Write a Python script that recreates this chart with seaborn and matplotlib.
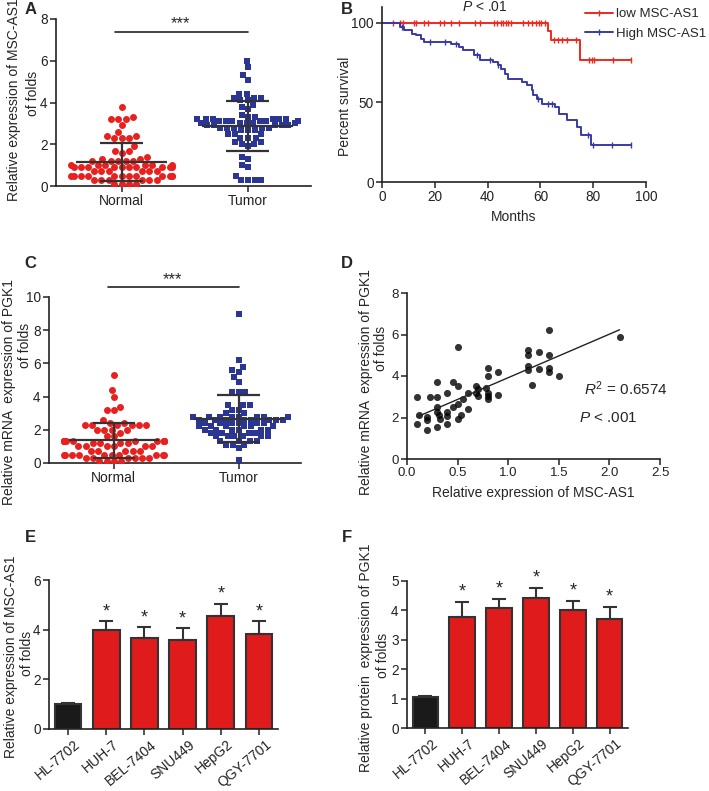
import numpy as np
import pandas as pd
import matplotlib
matplotlib.use("Agg")
import matplotlib.pyplot as plt
from matplotlib.lines import Line2D
from matplotlib.transforms import ScaledTranslation
import seaborn as sns

# ---------------- data ----------------
groups = ["Normal", "Tumor"]

# A: MSC-AS1 expression (scatter dot plot)
msc_normal = ([3.8, 3.3, 3.2, 3.2, 3.2, 2.9, 2.6, 2.4, 2.4, 2.3, 2.3, 2.3, 1.9, 1.7, 1.7,
               1.6, 1.4, 1.3, 1.3] + [1.2] * 5 + [1.0] * 6 + [0.9] * 10 + [0.7] * 6
              + [0.5] * 12 + [0.3] * 6 + [0.1] * 4)
msc_tumor = ([6.0, 5.7, 5.3, 5.1, 4.4, 4.4, 4.2, 4.2, 4.2, 4.1, 4.1, 3.9, 3.8, 3.7, 3.4,
              3.3, 3.3] + [3.2] * 6 + [3.1] * 6 + [3.0] * 5 + [2.9] * 5 + [2.8] * 5
             + [2.7] * 3 + [2.5] * 3 + [2.3] * 3 + [2.1] * 2 + [2.0] * 2
             + [1.9, 1.4, 1.3, 1.0, 0.9, 0.5, 0.3, 0.3, 0.3, 0.3])

# B: Kaplan-Meier curves (step times / survival %)
low_t = [0, 63, 64, 75, 94.4]
low_s = [100, 95, 89, 76.5, 76.5]
low_cens = [4, 7, 8, 12, 13, 15.8, 17.5, 22, 23.5, 26, 29, 35.4, 37.3, 42.4, 43.7, 45,
            45.9, 46.9, 47.8, 49, 53.5, 55.4, 57, 58.2, 59.3, 60.3, 61.6, 65, 66.7,
            68.2, 70.1, 73.3, 78.4, 79.4, 80.3, 87.4, 94.4]
high_t = [0, 6.8, 8.3, 11.5, 12.7, 14.6, 15.9, 26, 29.3, 30.6, 35, 37, 42, 44, 45.2,
          46.5, 47.8, 52.9, 54.8, 56.7, 57.3, 58.6, 60.5, 65.6, 66.9, 70, 73.9, 75.2,
          79, 94.3]
high_s = [100, 97.5, 95.4, 93.3, 92.2, 90.1, 88, 87, 84.9, 82.8, 79.7, 77, 75.5, 73.4,
          71.3, 68, 65, 62.9, 60.8, 57.7, 54.5, 52.4, 49.3, 47.2, 43, 39.2, 34.6, 29.4,
          23, 23]
high_cens = [7.5, 18, 24, 28, 36, 41, 44, 59, 63, 64.5, 78, 80, 87, 94.3]

# C: PGK1 mRNA expression
pgk_normal = ([5.3, 4.4, 4.0, 3.4, 3.2, 3.2, 2.6, 2.4, 2.4] + [2.3] * 6 + [2.0] * 4
              + [1.8, 1.6, 1.6] + [1.3] * 12 + [1.2] * 4 + [1.0] * 6 + [0.7] * 5
              + [0.5] * 10 + [0.3] * 6 + [0.1] * 4)
pgk_tumor = ([9.0, 6.2, 5.8, 5.6, 5.5, 5.2, 4.9, 4.3, 4.3, 4.3, 3.5, 3.5, 3.5, 3.2, 3.2,
              3.0, 3.0] + [2.8] * 8 + [2.6] * 8 + [2.4] * 6 + [2.2] * 6 + [2.0] * 6
             + [1.8] * 4 + [1.6] * 6 + [1.3] * 4 + [1.1] * 3 + [0.9, 0.2])

# D: correlation MSC-AS1 vs PGK1
corr_x = [0.1, 0.12, 0.1, 0.2, 0.2, 0.2, 0.23, 0.3, 0.3, 0.3, 0.3, 0.32, 0.3, 0.33,
          0.4, 0.4, 0.4, 0.4, 0.45, 0.45, 0.5, 0.5, 0.5, 0.5, 0.53, 0.55, 0.6, 0.6,
          0.68, 0.68, 0.7, 0.7, 0.78, 0.8, 0.8, 0.8, 0.8, 0.8, 0.9, 0.9, 1.2, 1.2,
          1.2, 1.2, 1.24, 1.3, 1.3, 1.4, 1.4, 1.4, 1.4, 1.5, 2.1]
corr_y = [3.0, 2.1, 1.7, 2.03, 1.87, 1.4, 3.0, 3.7, 3.0, 2.5, 2.27, 2.1, 1.52, 1.92,
          3.2, 2.25, 2.08, 1.68, 3.7, 2.5, 3.52, 5.4, 2.64, 1.92, 2.1, 2.9, 2.4, 3.2,
          3.2, 3.5, 3.05, 3.36, 3.4, 3.2, 4.4, 4.0, 2.9, 3.05, 4.2, 3.1, 5.23, 5.0,
          4.5, 4.3, 3.55, 5.15, 4.35, 6.2, 5.0, 4.37, 4.2, 4.0, 5.9]

# E / F: cell lines
cells = ["HL-7702", "HUH-7", "BEL-7404", "SNU449", "HepG2", "QGY-7701"]
msc_cells = [1.0, 4.0, 3.65, 3.6, 4.55, 3.82]
msc_cells_err = [0.03, 0.35, 0.45, 0.45, 0.5, 0.53]
pgk_cells = [1.04, 3.78, 4.09, 4.41, 4.01, 3.70]
pgk_cells_err = [0.05, 0.5, 0.3, 0.36, 0.31, 0.41]

# ---------------- style ----------------
sns.set_theme(style="ticks")
plt.rcParams["font.family"] = ["Liberation Sans", "DejaVu Sans"]
plt.rcParams["mathtext.fontset"] = "custom"
plt.rcParams["mathtext.rm"] = "Liberation Sans"
plt.rcParams["mathtext.it"] = "Liberation Sans:italic"
plt.rcParams["axes.edgecolor"] = "#222222"
plt.rcParams["axes.linewidth"] = 1.2
plt.rcParams["xtick.color"] = "#222222"
plt.rcParams["ytick.color"] = "#222222"

RED = "#E8201E"
BLUE = "#2B3594"
BAR_RED = "#E01B1B"
DARK = "#333333"
FS = 10
TFS = 9.8

W, H = 709, 791
fig = plt.figure(figsize=(W / 100, H / 100), dpi=100)


def px_axes(l, t, r, b):
    return fig.add_axes([l / W, 1 - b / H, (r - l) / W, (b - t) / H])


def px_text(x, y, s, **kw):
    return fig.text(x / W, 1 - y / H, s, **kw)


def style_axes(ax, tfs=TFS):
    sns.despine(ax=ax)
    ax.tick_params(labelsize=tfs, length=4, width=1.1, pad=2)


def two_line_ylabel(ax, rect, line1, c1, line2, c2):
    # rect = (left, top, right, bottom) in figure pixels; c1/c2 = label centres
    l, t, r, b = rect
    ax.set_ylabel(line1, fontsize=FS, va="center")
    ax.yaxis.set_label_coords((c1[0] - l) / (r - l), (b - c1[1]) / (b - t))
    if line2:
        px_text(c2[0], c2[1], line2, rotation=90, ha="center", va="center", fontsize=FS)


def dot_panel(ax, normal, tumor, ylim, yticks, sig_y):
    df = pd.DataFrame({"group": ["Normal"] * len(normal) + ["Tumor"] * len(tumor),
                       "value": normal + tumor})
    sns.swarmplot(data=df[df.group == "Normal"], x="group", y="value", order=groups,
                  color=RED, marker="o", size=5, linewidth=0, ax=ax)
    sns.swarmplot(data=df[df.group == "Tumor"], x="group", y="value", order=groups,
                  color=BLUE, marker="s", size=4.6, linewidth=0, ax=ax)
    stats = df.groupby("group")["value"].agg(["mean", "std"])
    for i, g in enumerate(groups):
        m, s = stats.loc[g, "mean"], stats.loc[g, "std"]
        ax.hlines(m, i - 0.36, i + 0.36, color=DARK, lw=1.6, zorder=5)
        ax.vlines(i, max(m - s, 0.2), m + s, color=DARK, lw=1.6, zorder=5)
        ax.hlines([max(m - s, 0.2), m + s], i - 0.17, i + 0.17, color=DARK, lw=1.6, zorder=5)
    ax.set_xlim(-0.52, 1.5)
    ax.set_ylim(*ylim)
    ax.set_yticks(yticks)
    ax.set_xlabel("")
    ax.plot([-0.05, 1.0], [sig_y, sig_y], color="#222222", lw=1.2, clip_on=False)
    ax.text(0.47, sig_y, "***", ha="center", va="bottom", fontsize=12)
    style_axes(ax)
    ax.tick_params(axis="x", labelsize=FS)


def bar_panel(ax, vals, errs, ylim, yticks, star_off):
    sns.barplot(x=cells, y=vals, hue=cells, palette=["#1A1A1A"] + [BAR_RED] * 5,
                saturation=1, legend=False, edgecolor=DARK, linewidth=1.5, width=0.7,
                ax=ax)
    ax.errorbar(range(len(cells)), vals, yerr=[[0] * len(cells), errs], fmt="none",
                ecolor=DARK, elinewidth=1.5, capsize=5, capthick=1.5)
    for i in range(1, len(cells)):
        ax.text(i, vals[i] + errs[i] + star_off, "*", ha="center", va="center", fontsize=13)
    ax.set_xlim(-0.5, 5.5)
    ax.set_ylim(*ylim)
    ax.set_yticks(yticks)
    style_axes(ax)
    ax.set_xticks(range(len(cells)))
    ax.set_xticklabels(cells, rotation=40, ha="right", fontsize=10)
    shift = ScaledTranslation(15 / 100, 0, fig.dpi_scale_trans)
    for lbl in ax.get_xticklabels():
        lbl.set_transform(lbl.get_transform() + shift)


# ---------------- A ----------------
rectA = (56, 19, 311, 186)
axA = px_axes(*rectA)
dot_panel(axA, msc_normal, msc_tumor, (0, 8), [0, 2, 4, 6, 8], 7.4)
two_line_ylabel(axA, rectA, "Relative expression of MSC-AS1", (14, 100), "of folds", (33, 93))

# ---------------- B ----------------
rectB = (382, 7, 646, 182)
axB = px_axes(*rectB)
for t, s, cens, col in [(low_t, low_s, low_cens, "#F0281E"),
                        (high_t, high_s, high_cens, "#3A3AA6")]:
    sns.lineplot(x=t, y=s, drawstyle="steps-post", color=col, lw=1.4, estimator=None,
                 ax=axB)
    idx = np.searchsorted(t, cens, side="right") - 1
    axB.plot(cens, np.array(s)[idx], ls="none", marker="|", ms=5, mew=1, color=col)
axB.set_xlim(0, 100)
axB.set_ylim(0, 110)
axB.set_xticks([0, 20, 40, 60, 80, 100])
axB.set_yticks([0, 50, 100])
axB.set_xlabel("Months", fontsize=FS)
two_line_ylabel(axB, rectB, "Percent survival", (345, 106), None, None)
axB.text(39, 110, "$P$ < .01", ha="center", va="center", fontsize=FS)
style_axes(axB)
handles = [Line2D([], [], color="#F0281E", lw=1.4, marker="|", ms=5),
           Line2D([], [], color="#3A3AA6", lw=1.4, marker="|", ms=5)]
fig.legend(handles, ["low MSC-AS1", "High MSC-AS1"], loc="upper left",
           bbox_to_anchor=(585 / W, 1 - 8 / H), frameon=False, fontsize=9.5,
           handlelength=2.1, handletextpad=0.25, labelspacing=0.55, borderpad=0,
           borderaxespad=0)

# ---------------- C ----------------
rectC = (49, 297, 301, 463)
axC = px_axes(*rectC)
dot_panel(axC, pgk_normal, pgk_tumor, (0, 10), [0, 2, 4, 6, 8, 10], 10.6)
two_line_ylabel(axC, rectC, "Relative mRNA  expression of PGK1", (9, 392), "of folds", (25, 345))

# ---------------- D ----------------
rectD = (407, 293, 660, 459)
axD = px_axes(*rectD)
sns.regplot(x=corr_x, y=corr_y, ci=None, ax=axD,
            scatter_kws=dict(s=26, color="black", linewidths=0),
            line_kws=dict(color="#222222", lw=1))
axD.set_xlim(0, 2.5)
axD.set_ylim(0, 8)
axD.set_xticks([0.0, 0.5, 1.0, 1.5, 2.0, 2.5])
axD.set_xticklabels(["0.0", "0.5", "1.0", "1.5", "2.0", "2.5"])
axD.set_yticks([0, 2, 4, 6, 8])
axD.set_xlabel("Relative expression of MSC-AS1", fontsize=FS, labelpad=5)
two_line_ylabel(axD, rectD, "Relative mRNA  expression of PGK1", (366, 382), "of folds", (381, 348))
axD.text(1.75, 3.4, "$R^2$ = 0.6574", ha="left", va="center", fontsize=FS + 1)
axD.text(1.7, 2.0, "$P$ < .001", ha="left", va="center", fontsize=FS + 1)
style_axes(axD, tfs=9.5)

# ---------------- E / F ----------------
rectE = (49, 580, 278, 729)
axE = px_axes(*rectE)
bar_panel(axE, msc_cells, msc_cells_err, (0, 6), [0, 2, 4, 6], 0.38)
two_line_ylabel(axE, rectE, "Relative expression of MSC-AS1", (11, 657), "of folds", (27, 653))
rectF = (407, 581, 628, 728)
axF = px_axes(*rectF)
bar_panel(axF, pgk_cells, pgk_cells_err, (0, 5), [0, 1, 2, 3, 4, 5], 0.33)
two_line_ylabel(axF, rectF, "Relative protein  expression of PGK1", (366, 658), "of folds", (383, 655))

# panel letters
for lab, x, y in [("A", 31, 9), ("B", 347, 10), ("C", 30, 263), ("D", 347, 263),
                  ("E", 30, 537), ("F", 347, 537)]:
    px_text(x, y, lab, fontsize=12, fontweight="bold", ha="center", va="center")

fig.savefig("out.png", dpi=100)
